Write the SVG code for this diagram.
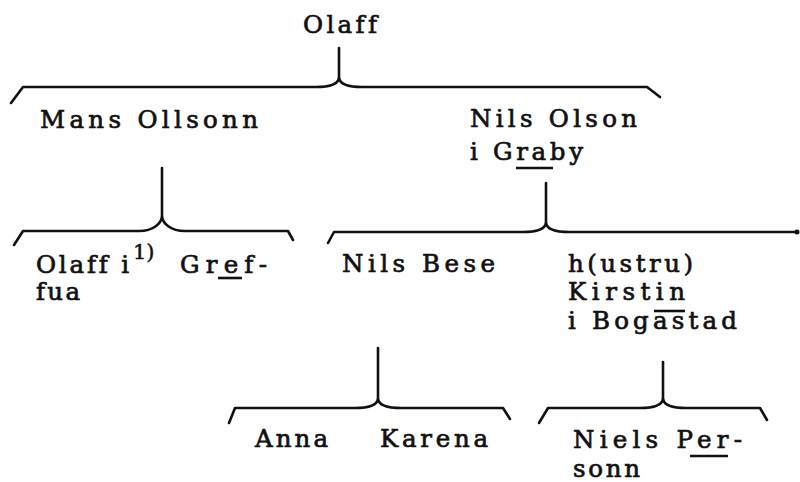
<svg xmlns="http://www.w3.org/2000/svg" width="800" height="482" viewBox="0 0 800 482">
<style>
.t{font-family:"DejaVu Serif","Liberation Serif",serif;font-size:24.5px;fill:#111;stroke:#111;stroke-width:0.7;font-variant-ligatures:none}
.sup{font-family:"DejaVu Serif","Liberation Serif",serif;font-size:21px;fill:#111;stroke:#111;stroke-width:0.5}
.br{fill:none;stroke:#111;stroke-width:2.6;stroke-linecap:round;stroke-linejoin:round}
.ul{stroke:#111;stroke-width:2.6;stroke-linecap:butt}
</style>
<rect width="800" height="482" fill="#fff"/>
<g id="connectors">
<path class="br" d="M339 48 L339 78"/>
<path class="br" d="M11 103 L23 87 L316 87 C331 87 338 84 339 78 C340 84 347 87 362 87 L647 87 L660 97"/>
<path class="br" d="M546 183 L546 223"/>
<path class="br" d="M328 243 L334 232 L523 232 C538 232 545 229 546 223 C547 229 554 232 569 232 L797 232"/>
<circle cx="797" cy="232" r="2.5" fill="#111"/>
<path class="br" d="M162 168 L162 217"/>
<path class="br" d="M14 245 L23 231 L139 231 C154 231 161 223 162 217 C163 223 170 231 185 231 L288 231 L293 240"/>
<path class="br" d="M378 348 L378 399"/>
<path class="br" d="M229 423 L235 408 L355 408 C370 408 377 405 378 399 C379 405 386 408 401 408 L503 408 L510 419"/>
<path class="br" d="M663 362 L663 399"/>
<path class="br" d="M539 423 L548 408 L640 408 C655 408 662 405 663 399 C664 405 671 408 686 408 L760 408 L767 420"/>
</g>
<g id="olaff"><text class="t" x="303" y="33" textLength="74" lengthAdjust="spacing">Olaff</text></g>
<g id="mans-ollsonn"><text class="t" x="40" y="128" textLength="218" lengthAdjust="spacing">Mans Ollsonn</text></g>
<g id="nils-olson">
<text class="t" x="470" y="127" textLength="167" lengthAdjust="spacing">Nils Olson</text>
<text class="t" x="470" y="160" textLength="113" lengthAdjust="spacing">i Graby</text>
<line class="ul" x1="516" y1="168" x2="553" y2="168"/>
</g>
<g id="olaff-i-greffua">
<text class="t" x="36" y="273" textLength="93" lengthAdjust="spacing">Olaff i</text>
<text class="sup" x="133" y="259">1)</text>
<text class="t" x="180" y="273" textLength="87" lengthAdjust="spacing">Gref-</text>
<text class="t" x="36" y="300" textLength="44" lengthAdjust="spacing">fua</text>
<line class="ul" x1="218" y1="278" x2="242" y2="278"/>
</g>
<g id="nils-bese"><text class="t" x="342" y="272" textLength="153" lengthAdjust="spacing">Nils Bese</text></g>
<g id="kirstin">
<text class="t" x="568" y="272" textLength="125" lengthAdjust="spacing">h(ustru)</text>
<text class="t" x="568" y="300" textLength="117" lengthAdjust="spacing">Kirstin</text>
<text class="t" x="568" y="329" textLength="169" lengthAdjust="spacing">i Bogastad</text>
<line class="ul" x1="654" y1="311" x2="685" y2="311"/>
</g>
<g id="anna"><text class="t" x="255" y="447" textLength="73" lengthAdjust="spacing">Anna</text></g>
<g id="karena"><text class="t" x="380" y="447" textLength="108" lengthAdjust="spacing">Karena</text></g>
<g id="niels-personn">
<text class="t" x="573" y="448" textLength="169" lengthAdjust="spacing">Niels Per-</text>
<text class="t" x="573" y="477" textLength="67" lengthAdjust="spacing">sonn</text>
<line class="ul" x1="690" y1="456" x2="728" y2="456"/>
</g>
</svg>
